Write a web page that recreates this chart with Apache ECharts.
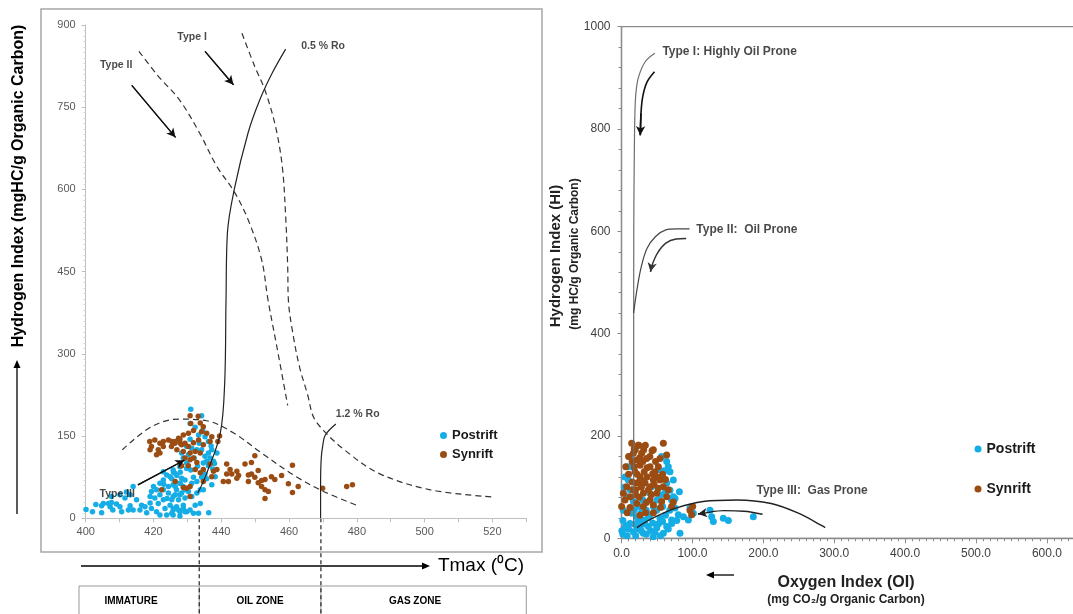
<!DOCTYPE html>
<html>
<head>
<meta charset="utf-8">
<script src="https://cdn.jsdelivr.net/npm/echarts@6/dist/echarts.min.js"></script>
<style>
html, body { margin: 0; padding: 0; background: #fff; }
#chart { width: 1073px; height: 614px; }
</style>
</head>
<body>
<div id="chart"></div>
<script>
// ---- data ----
// left panel: Tmax (deg C) vs HI
var tmaxLabels = [400, 420, 440, 460, 480, 500, 520];
var hiLabelsLeft = [0, 150, 300, 450, 600, 750, 900];
// right panel: OI vs HI
var oiLabels = [0, 100, 200, 300, 400, 500, 600];
var hiLabelsRight = [0, 200, 400, 600, 800, 1000];

var postriftTmax = [
  [400.1,16],[402.0,12],[404.7,10],[404.7,23],[405.2,27],[406.7,27],[407.2,21],[407.6,29],[409.1,26],[410.1,21],
  [410.6,12],[412.6,15],[413.1,23],[414.0,15],[416.0,15],[416.5,24],[417.5,21],[414.0,58],[413.1,43],[411.6,37],
  [407.6,40],[410.1,43],[419.0,40],[419.4,49],[420.0,58],[420.9,52],[421.9,64],[422.9,70],[423.9,79],[422.9,85],
  [424.9,76],[425.8,88],[426.3,82],[427.8,94],[428.3,73],[429.8,91],[421.4,27],[422.9,34],[423.4,18],[424.9,24],
  [425.8,15],[426.8,21],[427.8,12],[428.8,18],[429.8,12],[420.9,12],[421.9,6],[423.9,6],[425.8,6],[427.8,4],
  [419.4,18],[420.4,37],[421.9,43],[424.4,46],[425.8,40],[426.8,52],[427.8,43],[429.3,52],[425.8,61],[427.8,64],
  [428.8,58],[424.4,58],[422.9,52],
  [431.0,199],[434.2,187],[430.8,173],[432.3,166],[435.2,149],[436.2,140],[433.3,152],[430.8,144],[429.8,131],[431.3,128],
  [432.8,125],[434.2,125],[435.2,113],[436.2,119],[437.2,125],[435.7,104],[434.7,101],[436.2,96],[436.7,110],[435.2,81],
  [435.7,72],[434.2,75],[432.8,67],[431.8,75],[431.3,64],[426.9,78],[425.9,84],[427.9,84],[425.4,72],[426.4,58],
  [427.9,64],[429.3,70],[430.3,49],[428.3,46],[426.4,43],[425.4,34],[427.4,34],[429.3,37],[431.3,40],[432.8,46],
  [433.8,52],[425.9,18],[427.4,15],[429.3,12],[430.8,15],[431.8,9],[433.3,9],[425.4,9],[433.8,27],[432.3,24],
  [428.8,24],[438.7,119],[437.7,104],[438.2,76],[437.2,61],[434.7,52],[429.8,101],[428.8,110],[428.3,119],[430.3,116],
  [436.3,10],[437.5,90],[433.0,95],[431.0,88],[432.0,110],[433.5,137],[434.5,160],[438.0,100],[437.0,132],[423.0,62],
  [424.0,36],[419.0,28],[418.0,10],[415.0,34],[412.0,48],[408.0,15],[403.0,25]
];
var synriftTmax = [
  [418.9,140],[419.4,131],[420.4,143],[421.9,137],[421.4,125],[422.9,140],[424.4,143],[425.3,131],[426.3,137],[427.8,144],
  [428.3,134],[422.9,131],[419.0,125],[420.9,116],[421.9,119],[422.4,52],[429.8,55],[430.8,40],[433.2,186],
  [430.8,187],[431.0,173],[433.8,174],[434.7,167],[431.8,160],[430.3,155],[434.2,158],[435.7,155],[428.8,152],[427.4,146],
  [426.4,140],[425.4,140],[427.9,137],[429.3,137],[430.3,131],[431.8,138],[433.3,143],[434.7,134],[436.7,140],[437.2,149],
  [426.9,125],[428.8,122],[430.8,119],[432.3,122],[433.8,119],[430.8,107],[431.8,110],[432.8,102],[430.3,96],[432.3,89],
  [433.8,83],[434.7,89],[436.7,99],[437.7,86],[438.7,89],[437.2,76],[430.8,58],[428.8,56],[426.4,67],[434.7,67],
  [428.3,96],[429.3,110],[439.5,150],[439.0,140],
  [441.6,99],[442.6,89],[441.6,81],[443.1,81],[444.6,86],[445.1,78],[440.6,67],[442.1,67],[444.6,73],
  [449.9,114],[447.0,99],[448.9,102],[450.9,87],[448.0,79],[448.9,81],[449.9,75],[448.0,67],[450.9,65],[451.9,69],
  [452.9,71],[454.8,76],[455.8,71],[457.8,78],[451.9,58],[452.9,52],[453.9,49],[452.9,36],[459.8,63],[461.0,97],
  [461.0,47],[462.7,58],[469.9,55],[477.0,58],[478.7,61]
];

var postriftOI = [
  [4.9,120],[7.3,81],[2.6,55],[4.9,20],[16.7,13],[30.8,10],[44.9,3],[59,10],[63.7,23],[70.7,36],
  [80.1,46],[70.7,75],[68.4,94],[63.7,108],[63.7,150],[56.6,160],[68.4,130],[73.1,114],[75.5,78],[51.9,134],
  [42.5,101],[49.6,55],[30.8,36],[21.4,42],[40.2,46],[54.3,39],[26.1,23],[37.8,23],[49.6,20],[12,29],
  [14.4,49],[16.7,72],[12,160],[14.4,140],[9.6,114],
  [81.6,91],[73.1,81],[96.6,59],[124.8,55],[127.2,42],[129.5,33],[143.6,39],[150.7,35],[185.9,42],[94.3,36],
  [87.3,42],[77.9,35],[70.8,29],[82.5,10],[101.3,49],[75.4,59],
  [0.5,15],[2,8],[6,25],[8,5],[10,18],[18,28],[20,5],[22,18],[24,33],[28,15],
  [33,28],[35,8],[38,40],[41,15],[44,30],[47,12],[52,28],[55,5],[58,33],[62,45],
  [66,18],[68,55],[35,55],[28,50],[45,62],[58,62],[25,62],[12,95],[8,140],[4,100],
  [60,132],[66,140],[62,90],[55,85],[2,35],[18,55],[50,75],[30,75],[40,88]
];
var synriftOI = [
  [14.4,186],[23.8,182],[44.9,173],[59,186],[63.7,163],[54.3,156],[28.5,166],[21.4,153],[35.5,156],[40.2,140],
  [47.2,130],[54.3,114],[59,101],[63.7,81],[70.7,62],[49.6,88],[40.2,75],[30.8,62],[21.4,68],[12,81],
  [4.9,75],[0.2,62],[2.6,88],[7.3,101],[19,130],[26.1,120],[33.2,108],[40.2,101],[30.8,88],[21.4,108],
  [16.7,166],[26.1,143],[44.9,114],[51.9,98],[44.9,65],[56.6,72],[96.6,55],[98.9,46],
  [24.2,182],[33.6,182],[19.5,173],[31.3,173],[43.1,171],
  [15,150],[18,140],[22,125],[25,110],[28,100],[32,130],[36,120],[38,95],[42,85],[46,105],
  [50,120],[52,140],[20,95],[15,110],[10,125],[12,60],[8,50],[25,80],[35,70],[45,50],
  [55,60],[58,125],[30,150],[40,160],[48,150],[18,175],[10,160],[73.1,71],[100.4,62],[6,140],
  [26,158],[36,138],[44,126],[30,112],[20,85],[16,95],[34,50],[26,45],[62,115],[66,95]
];

// reference curves (left panel, Tmax/HI)
var typeIDashed = [[446.1,885],[449.9,824],[452.9,781],[456,715],[458,642],[459,551],[459.6,459],[459.8,398],[461.1,338],[463.1,276],[465.5,225],[467.2,185],[470.2,160],[476.3,125],[486.5,82],[501.7,52],[520,39]];
var typeIIDashed = [[415.7,852],[421.5,806],[427.6,764],[433.6,703],[438.7,642],[443.8,596],[447.9,545],[451.9,472],[453.8,398],[456.4,313],[459.6,206]];
var typeIIIDashed = [[410.8,125],[419.4,167],[427.5,181],[435.7,178],[443.8,155],[451.9,119],[462.1,76],[470.2,49],[479.9,24]];
var ro05 = [[433.1,46],[435.7,82],[439.7,155],[441.0,246],[441.4,398],[441.8,520],[443.8,599],[447.9,703],[451.4,764],[455,812],[459,856]];
var ro12 = [[469.3,0],[469.3,60],[469.5,110],[470,135],[470.7,152],[473.8,172]];
var arrowTypeI = [[435.2,852],[443.6,791]];
var arrowTypeII = [[413.6,790],[426.5,695]];
var arrowTypeIII = [[415.4,61],[429.1,106]];
var zoneBounds = [433.5, 469.4];
var zoneNames = ['IMMATURE', 'OIL ZONE', 'GAS ZONE'];

// reference curves (right panel, OI/HI)
var pathTypeI = [[47.1,948],[33.7,932],[24.1,902],[20.3,870],[18.8,824],[17.9,726],[17.3,600],[17.2,400],[17.2,200],[17.2,21]];
var pathTypeIArrow = [[46.6,912],[36.1,892],[29.9,863],[27.5,831],[26.5,788]];
var pathTypeII = [[96,605],[76.9,605],[62.5,603],[48.1,590],[36.1,567],[27.9,531],[21.7,485],[17,440]];
var pathTypeIIArrow = [[91.2,586],[76.9,585],[62.5,577],[50.5,557],[42.3,531],[40.9,521]];
var pathTypeIII = [[21.7,21],[43.3,39],[76.9,59],[115.1,72],[163,75],[211,68],[249.4,49],[287.3,21]];
var pathTypeIIIArrow = [[199,47],[172.6,53],[143.9,54],[115.2,49],[107.9,47.5]];

// annotation text [text, x, y]
var notesLeftCenter = [['Type I', 431.4, 878], ['Type II', 409, 826], ['Type III', 409.3, 44]];
var notesLeftSide = [['0.5 % Ro', 463.6, 862], ['1.2 % Ro', 473.8, 190]];
var notesRight = [['Type I: Highly Oil Prone', 57.7, 951], ['Type II:  Oil Prone', 105.6, 603], ['Type III:  Gas Prone', 190.4, 93]];

var BLUE = '#15ade6';
var BROWN = '#9b4c12';
var FONT = '"Liberation Sans", Arial, sans-serif';

var chart = echarts.init(document.getElementById('chart'));

function curve(data, g, dashed, color, width) {
  return {
    type: 'line', xAxisIndex: g, yAxisIndex: g, data: data, smooth: 0.35,
    symbol: 'none', silent: true, z: 5, animation: false,
    lineStyle: { color: color, width: width, type: dashed ? [6, 4] : 'solid' }
  };
}

// a line with an arrowhead on its last segment
function arrowed(data, g, color, width) {
  var s = curve(data, g, false, color, width);
  var n = data.length;
  s.markLine = {
    silent: true, animation: false, symbol: ['none', 'arrow'], symbolSize: [7, 9],
    label: { show: false },
    lineStyle: { color: color, width: width, type: 'solid' },
    data: [[{ coord: data[n - 2] }, { coord: data[n - 1] }]]
  };
  return s;
}

function notes(list, g, pos, size) {
  return {
    type: 'scatter', xAxisIndex: g, yAxisIndex: g, symbolSize: 0, silent: true, z: 6,
    data: list.map(function (d) { return { name: d[0], value: [d[1], d[2]] }; }),
    label: {
      show: true, formatter: '{b}', position: pos, distance: 0,
      fontSize: size, fontWeight: 'bold', color: '#1a1a1a', fontFamily: FONT
    }
  };
}

function scatter(name, data, g, color, size) {
  return {
    type: 'scatter', name: name, xAxisIndex: g, yAxisIndex: g, data: data,
    symbolSize: size, itemStyle: { color: color, opacity: 1 }, z: 3
  };
}

var option = {
  animation: false,
  textStyle: { fontFamily: FONT },
  grid: [
    { left: 85.7, top: 25, width: 440.6, height: 493.3, outerBoundsMode: 'none' },
    { left: 621.5, top: 26.7, width: 496.3, height: 511.6, outerBoundsMode: 'none',
      show: true, borderColor: '#8c8c8c', borderWidth: 1.3 }
  ],
  xAxis: [
    {
      gridIndex: 0, type: 'value', min: 400, max: 530, interval: 10,
      splitLine: { show: false },
      axisLine: { lineStyle: { color: '#bfbfbf', width: 1 } },
      axisTick: { length: 4, lineStyle: { color: '#bfbfbf' } },
      axisLabel: {
        color: '#595959', fontSize: 11, margin: 8,
        formatter: function (v) { return tmaxLabels.indexOf(v) >= 0 ? String(v) : ''; }
      }
    },
    {
      gridIndex: 1, type: 'value', min: 0, max: 700, interval: 100,
      splitLine: { show: false },
      axisLine: { lineStyle: { color: '#8c8c8c', width: 1.3 } },
      axisTick: { length: 5, lineStyle: { color: '#8c8c8c' } },
      minorTick: { show: true, splitNumber: 10, length: 3, lineStyle: { color: '#8c8c8c' } },
      axisLabel: {
        color: '#404040', fontSize: 12, margin: 9,
        formatter: function (v) { return oiLabels.indexOf(v) >= 0 ? v.toFixed(1) : ''; }
      }
    }
  ],
  yAxis: [
    {
      gridIndex: 0, type: 'value', min: 0, max: 900, interval: 150,
      splitLine: { show: false },
      axisLine: { show: true, lineStyle: { color: '#bfbfbf', width: 1 } },
      axisTick: { show: true, length: 4, lineStyle: { color: '#bfbfbf' } },
      minorTick: { show: true, splitNumber: 15, length: 2, lineStyle: { color: '#cfcfcf' } },
      axisLabel: {
        color: '#595959', fontSize: 11, margin: 10,
        formatter: function (v) { return hiLabelsLeft.indexOf(v) >= 0 ? String(v) : ''; }
      }
    },
    {
      gridIndex: 1, type: 'value', min: 0, max: 1000, interval: 200,
      splitLine: { show: false },
      axisLine: { show: true, lineStyle: { color: '#8c8c8c', width: 1.3 } },
      axisTick: { show: true, length: 4, lineStyle: { color: '#8c8c8c' } },
      minorTick: { show: true, splitNumber: 5, length: 3, lineStyle: { color: '#8c8c8c' } },
      axisLabel: {
        color: '#404040', fontSize: 12, margin: 11,
        formatter: function (v) { return hiLabelsRight.indexOf(v) >= 0 ? String(v) : ''; }
      }
    }
  ],
  legend: [
    {
      orient: 'vertical', left: 435, top: 424, itemWidth: 7, itemHeight: 7, itemGap: 6,
      icon: 'circle', data: ['Postrift', 'Synrift'], selectedMode: false,
      textStyle: { fontSize: 13, fontWeight: 'bold', color: '#1a1a1a', fontFamily: FONT }
    },
    {
      orient: 'vertical', left: 969.5, top: 437, itemWidth: 7, itemHeight: 7, itemGap: 26,
      icon: 'circle', data: ['Postrift', 'Synrift'], selectedMode: false,
      textStyle: { fontSize: 14, fontWeight: 'bold', color: '#1a1a1a', fontFamily: FONT }
    }
  ],
  series: [
    scatter('Postrift', postriftTmax, 0, BLUE, 5.5),
    scatter('Synrift', synriftTmax, 0, BROWN, 5.5),
    scatter('Postrift', postriftOI, 1, BLUE, 7),
    scatter('Synrift', synriftOI, 1, BROWN, 7),
    curve(typeIDashed, 0, true, '#333', 1.2),
    curve(typeIIDashed, 0, true, '#333', 1.2),
    curve(typeIIIDashed, 0, true, '#333', 1.2),
    curve(ro05, 0, false, '#222', 1.2),
    curve(ro12, 0, false, '#222', 1.2),
    arrowed(arrowTypeI, 0, '#111', 1.2),
    arrowed(arrowTypeII, 0, '#111', 1.2),
    arrowed(arrowTypeIII, 0, '#111', 1.2),
    notes(notesLeftCenter, 0, 'inside', 10.5),
    notes(notesLeftSide, 0, 'right', 10.5),
    curve(pathTypeI, 1, false, '#6e6e6e', 1.2),
    arrowed(pathTypeIArrow, 1, '#111', 1.6),
    curve(pathTypeII, 1, false, '#444', 1.2),
    arrowed(pathTypeIIArrow, 1, '#333', 1.4),
    curve(pathTypeIII, 1, false, '#222', 1.4),
    arrowed(pathTypeIIIArrow, 1, '#222', 1.4),
    notes(notesRight, 1, 'right', 12)
  ]
};
chart.setOption(option);

// ---- decorations around the plots (titles, zone table) ----
function px(g, x, y) { return chart.convertToPixel({ gridIndex: g }, [x, y]); }
function arrowGfx(x1, y1, x2, y2, w) {
  var a = Math.atan2(y2 - y1, x2 - x1), L = 8, H = 3.5;
  return [
    { type: 'line', shape: { x1: x1, y1: y1, x2: x2 - Math.cos(a) * L * 0.6, y2: y2 - Math.sin(a) * L * 0.6 },
      style: { stroke: '#000', lineWidth: w } },
    { type: 'polygon', shape: { points: [
      [x2, y2],
      [x2 - Math.cos(a) * L - Math.sin(a) * H, y2 - Math.sin(a) * L + Math.cos(a) * H],
      [x2 - Math.cos(a) * L + Math.sin(a) * H, y2 - Math.sin(a) * L - Math.cos(a) * H]
    ] }, style: { fill: '#000' } }
  ];
}
function txt(text, x, y, size, opts) {
  opts = opts || {};
  return {
    type: 'text', x: x, y: y, rotation: opts.rot || 0, z: 10,
    style: {
      text: text, fontSize: size, fontWeight: opts.weight || 'bold', fontFamily: FONT,
      fill: opts.color || '#000', align: opts.align || 'center', verticalAlign: 'middle'
    }
  };
}

var axisY = px(0, 400, 0)[1];
var b1 = px(0, zoneBounds[0], 0)[0];
var b2 = px(0, zoneBounds[1], 0)[0];
var xEnd = px(0, 530, 0)[0];
var tableLeft = 79;

var gfx = [
  { type: 'rect', shape: { x: 41, y: 9, width: 501, height: 543 }, style: { fill: 'none', stroke: '#a6a6a6', lineWidth: 1.5 } },
  txt('Hydrogen Index (mgHC/g Organic Carbon)', 19, 186, 16, { rot: Math.PI / 2 }),
  txt('Tmax (\u2070C)', 481, 566, 19, { weight: 'normal' }),
  { type: 'rect', shape: { x: tableLeft, y: 586, width: xEnd - tableLeft, height: 40 }, style: { fill: 'none', stroke: '#999', lineWidth: 1 } },
  { type: 'line', shape: { x1: b1, y1: 586, x2: b1, y2: 614 }, style: { stroke: '#999', lineWidth: 1 } },
  { type: 'line', shape: { x1: b2, y1: 586, x2: b2, y2: 614 }, style: { stroke: '#999', lineWidth: 1 } },
  { type: 'line', shape: { x1: b1, y1: axisY, x2: b1, y2: 614 }, style: { stroke: '#222', lineWidth: 1.2, lineDash: [4, 3] } },
  { type: 'line', shape: { x1: b2, y1: axisY, x2: b2, y2: 614 }, style: { stroke: '#222', lineWidth: 1.2, lineDash: [4, 3] } },
  txt(zoneNames[0], 131, 601, 10),
  txt(zoneNames[1], (b1 + b2) / 2, 601, 10),
  txt(zoneNames[2], 415, 601, 10),
  txt('Hydrogen Index (HI)', 556, 256, 15, { rot: Math.PI / 2, color: '#222' }),
  txt('(mg HC/g Organic Carbon)', 575, 254, 12, { rot: Math.PI / 2, color: '#222' }),
  txt('Oxygen Index (OI)', 846, 583, 16, { color: '#222' }),
  txt('(mg CO\u2082/g Organic Carbon)', 846, 600, 12, { color: '#222' })
];
gfx = gfx.concat(arrowGfx(17, 514, 17, 360, 1.3));
gfx = gfx.concat(arrowGfx(81, 566, 430, 566, 1.3));
gfx = gfx.concat(arrowGfx(734, 575, 706, 575, 1.3));
chart.setOption({ graphic: gfx });
</script>
</body>
</html>
